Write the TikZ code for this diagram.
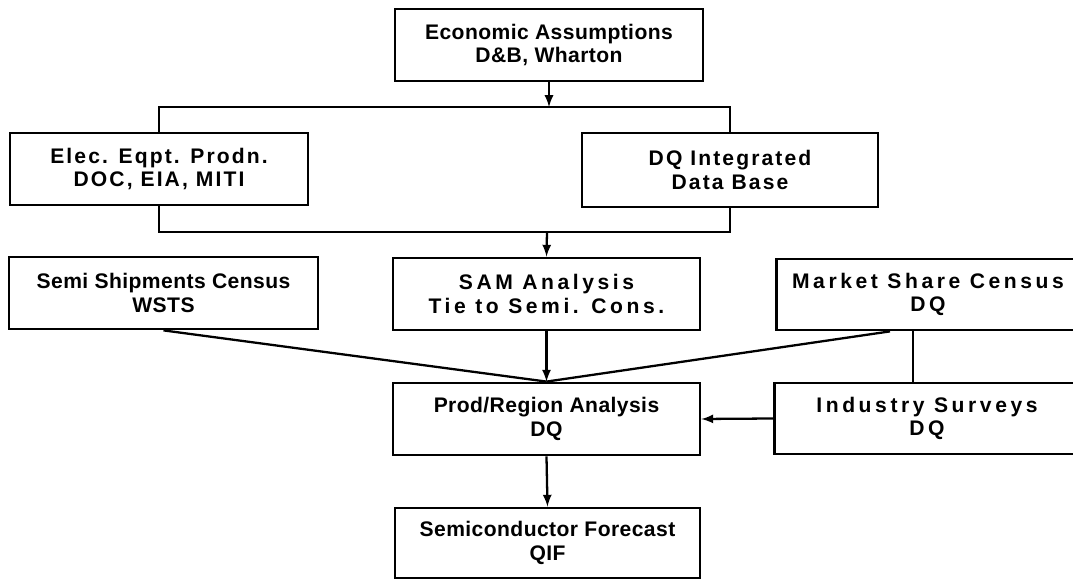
\documentclass[tikz,border=0pt]{standalone}
\usepackage{fontspec}
\usepackage{pgf,tikz}
\usetikzlibrary{arrows,positioning}
\usetikzlibrary{calc}
\setmainfont{Liberation Sans}
\newfontfamily\tightlbl[LetterSpace=2]{Liberation Sans Bold}
\newfontfamily\midlbl[LetterSpace=10]{Liberation Sans Bold}
\newfontfamily\widelbl[LetterSpace=17]{Liberation Sans Bold}

\begin{document}
\begin{tikzpicture}[x=0.02cm,y=-0.02cm,>=latex,
  blk/.style={draw,line width=1.6pt,align=center,inner sep=0pt,minimum height=1.44cm},
  link/.style={line width=1.3pt}]

\useasboundingbox (0,0) rectangle (1073,580);

\node[blk,minimum width=6.16cm,font=\tightlbl\fontsize{12}{13.5}\selectfont] (econ) at (549,45) {Economic Assumptions\\D\&B, Wharton};
\node[blk,minimum width=5.96cm,font=\midlbl\fontsize{12}{13.5}\selectfont] (elec) at (159,169) {Elec. Eqpt. Prodn.\\DOC, EIA, MITI};
\node[blk,minimum width=5.92cm,minimum height=1.48cm,font=\midlbl\fontsize{12}{13.5}\selectfont] (dqdb) at (730,170) {DQ Integrated\\Data Base};
\node[blk,minimum width=6.18cm,font=\tightlbl\fontsize{12}{13.5}\selectfont] (semi) at (163.5,293) {Semi Shipments Census\\WSTS};
\node[blk,minimum width=6.14cm,font=\widelbl\fontsize{12}{13.5}\selectfont] (sam) at (546.5,294) {SAM Analysis\\Tie to Semi. Cons.};
\node[blk,minimum width=6.06cm,minimum height=1.42cm,font=\widelbl\fontsize{12}{13.5}\selectfont] (market) at (928,294.5) {Market Share Census\\DQ};
\node[blk,minimum width=6.14cm,font=\tightlbl\fontsize{12}{13.5}\selectfont] (prod) at (546.5,419) {Prod/Region Analysis\\DQ};
\node[blk,minimum width=6.1cm,minimum height=1.42cm,font=\widelbl\fontsize{12}{13.5}\selectfont] (indus) at (927,418.5) {Industry Surveys\\DQ};
\node[blk,minimum width=6.1cm,minimum height=1.4cm,font=\tightlbl\fontsize{12}{13.5}\selectfont] (fcst) at (547.5,543) {Semiconductor Forecast\\QIF};

\coordinate (busA) at (549,107);
\coordinate (busB) at (547,232);
\coordinate (msplit) at ($(market.south)+(-38,0)$);
\coordinate (mdrop) at ($(market.south)+(-15,0)$);

\draw[link,->] (econ.south) -- (busA);
\draw[link] (elec.north) |- (busA) -| (dqdb.north);
\draw[link] (elec.south) |- (busB) -| (dqdb.south);
\draw[link,->] (busB) -- (sam.north);

\draw[link,->] (sam.south) -- (prod.north);
\draw[link] (semi.south) -- (prod.north);
\draw[link] (msplit) -- (prod.north);
\draw[link] (mdrop) -- (mdrop |- indus.north);
\draw[link,->] (indus.west) -- (prod.east);
\draw[link,->] (prod.south) -- (fcst.north);
\end{tikzpicture}
\end{document}
